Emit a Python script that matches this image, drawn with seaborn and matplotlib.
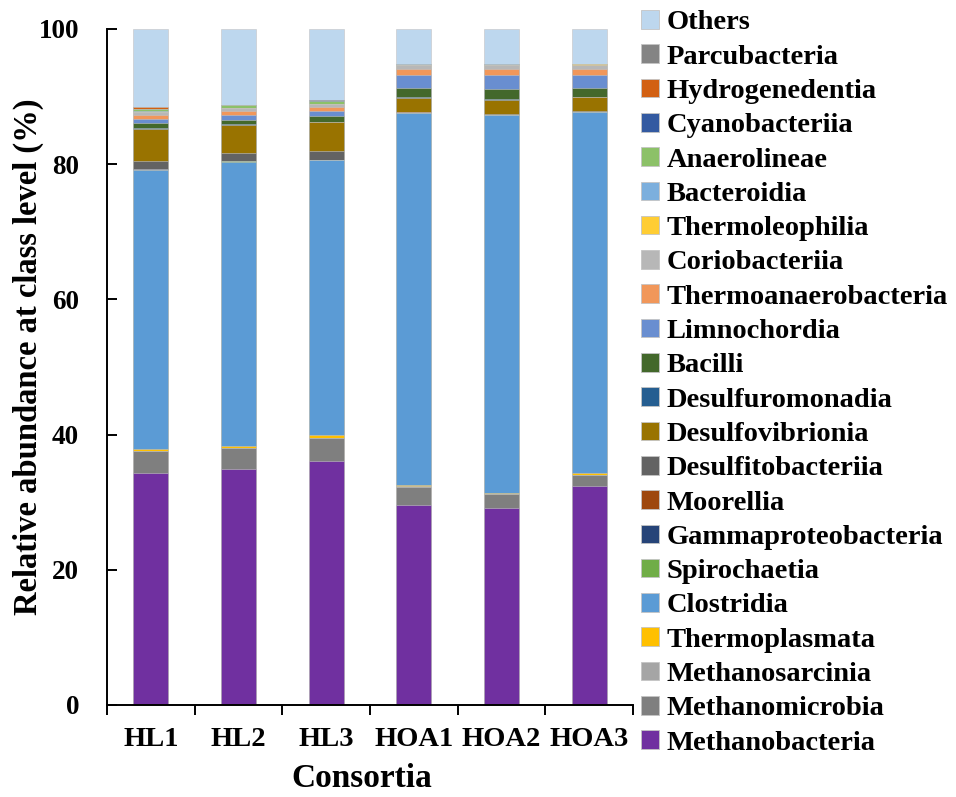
import matplotlib
matplotlib.use("Agg")
import matplotlib.pyplot as plt
from matplotlib.patches import Patch
from matplotlib.ticker import FixedLocator, NullFormatter
import numpy as np
import seaborn as sns

samples = ["HL1", "HL2", "HL3", "HOA1", "HOA2", "HOA3"]

# Relative abundance (%) of each class, per consortium (stack order bottom -> top)
methanobacteria = [34.3, 34.9, 36.1, 29.6, 29.1, 32.4]
methanomicrobia = [3.3, 3.1, 3.4, 2.65, 2.1, 1.6]
methanosarcinia = [0.02, 0.02, 0.05, 0.1, 0.02, 0.02]
thermoplasmata = [0.28, 0.3, 0.35, 0.2, 0.2, 0.25]
clostridia = [41.2, 41.95, 40.66, 55.0, 55.8, 53.4]
spirochaetia = [0.02, 0.14, 0.02, 0.02, 0.02, 0.02]
gammaproteobacteria = [0.15, 0.02, 0.02, 0.05, 0.02, 0.02]
moorellia = [0.02, 0.02, 0.02, 0.05, 0.02, 0.02]
desulfitobacteriia = [1.18, 1.24, 1.31, 0.12, 0.15, 0.15]
desulfovibrionia = [4.74, 4.04, 4.36, 2.05, 2.07, 2.08]
desulfuromonadia = [0.19, 0.15, 0.02, 0.05, 0.19, 0.05]
bacilli = [0.65, 0.64, 0.84, 1.43, 1.43, 1.32]
limnochordia = [0.64, 0.74, 0.71, 1.94, 2.12, 1.92]
thermoanaerobacteria = [0.59, 0.59, 0.59, 0.76, 0.91, 0.79]
coriobacteriia = [0.49, 0.44, 0.43, 0.7, 0.57, 0.69]
thermoleophilia = [0.02, 0.02, 0.02, 0.02, 0.02, 0.02]
bacteroidia = [0.03, 0.03, 0.03, 0.03, 0.03, 0.03]
anaerolineae = [0.35, 0.40, 0.49, 0.02, 0.02, 0.02]
cyanobacteriia = [0.02, 0.02, 0.02, 0.02, 0.02, 0.02]
hydrogenedentia = [0.24, 0.02, 0.02, 0.02, 0.02, 0.02]
parcubacteria = [0.02, 0.02, 0.02, 0.02, 0.02, 0.02]
others = [11.55, 11.2, 10.5, 5.15, 5.15, 5.15]

classes = [
    ("Methanobacteria", methanobacteria, "#7030A0"),
    ("Methanomicrobia", methanomicrobia, "#7F7F7F"),
    ("Methanosarcinia", methanosarcinia, "#A5A5A5"),
    ("Thermoplasmata", thermoplasmata, "#FFC000"),
    ("Clostridia", clostridia, "#5B9BD5"),
    ("Spirochaetia", spirochaetia, "#70AD47"),
    ("Gammaproteobacteria", gammaproteobacteria, "#264478"),
    ("Moorellia", moorellia, "#9E480E"),
    ("Desulfitobacteriia", desulfitobacteriia, "#636363"),
    ("Desulfovibrionia", desulfovibrionia, "#997300"),
    ("Desulfuromonadia", desulfuromonadia, "#255E91"),
    ("Bacilli", bacilli, "#43682B"),
    ("Limnochordia", limnochordia, "#698ED0"),
    ("Thermoanaerobacteria", thermoanaerobacteria, "#F1975A"),
    ("Coriobacteriia", coriobacteriia, "#B7B7B7"),
    ("Thermoleophilia", thermoleophilia, "#FFCD33"),
    ("Bacteroidia", bacteroidia, "#7CAFDD"),
    ("Anaerolineae", anaerolineae, "#8CC168"),
    ("Cyanobacteriia", cyanobacteriia, "#335AA1"),
    ("Hydrogenedentia", hydrogenedentia, "#D26012"),
    ("Parcubacteria", parcubacteria, "#848484"),
    ("Others", others, "#BDD7EE"),
]

sns.set_theme(style="white")
plt.rcParams["font.family"] = ["Liberation Serif", "DejaVu Serif"]
plt.rcParams["font.weight"] = "bold"
plt.rcParams["axes.labelweight"] = "bold"
for key in ("text.color", "axes.labelcolor", "xtick.color", "ytick.color"):
    plt.rcParams[key] = "black"

W, H = 956, 797
fig = plt.figure(figsize=(W / 100, H / 100), dpi=100)
ax = fig.add_axes([107 / W, 1 - 705 / H, (633 - 107) / W, (705 - 29) / H])

# cumulative tops; draw tallest first so each lower class overlays it
tops = np.cumsum(np.array([vals for _, vals, _ in classes], dtype=float), axis=0)
edge = "#C4C4C4"
for i in reversed(range(len(classes))):
    sns.barplot(x=samples, y=tops[i], color=classes[i][2], width=0.4,
                saturation=1, edgecolor=edge, linewidth=0.4, ax=ax)

ax.set_xlim(-0.5, len(samples) - 0.5)
ax.set_ylim(0, 100)
ax.set_yticks([0, 20, 40, 60, 80, 100])
ax.set_yticklabels(["0", "20", "40", "60", "80", "100"])
ax.set_xticks(range(len(samples)))
ax.set_xticklabels(samples)
ax.xaxis.set_minor_locator(FixedLocator(np.arange(-0.5, len(samples), 1.0)))
ax.xaxis.set_minor_formatter(NullFormatter())

for side in ("top", "right"):
    ax.spines[side].set_visible(False)
for side in ("left", "bottom"):
    ax.spines[side].set_color("black")
    ax.spines[side].set_linewidth(1.4)

ax.tick_params(axis="y", direction="in", length=7, width=1.4, color="black",
               labelcolor="black", pad=20, labelsize=19.5, left=True)
ax.tick_params(axis="x", which="major", length=0, pad=16, labelsize=20.5,
               labelcolor="black")
ax.tick_params(axis="x", which="minor", direction="out", length=7, width=1.4,
               color="black", bottom=True)

ax.set_xlabel("Consortia", fontsize=24, fontweight="bold", color="black")
ax.xaxis.set_label_coords((362 - 107) / 526, -58 / 676)
ax.set_ylabel("Relative abundance at class level (%)", fontsize=23.5,
              fontweight="bold", color="black")
ax.yaxis.set_label_coords((44 - 107) / 526, (705 - 357) / 676)

handles = [Patch(facecolor=c, edgecolor=edge, linewidth=0.6, label=n)
           for n, _, c in reversed(classes)]
leg = fig.legend(handles=handles, loc="upper left",
                 bbox_to_anchor=(641 / W, 1 - 10 / H), frameon=False,
                 fontsize=20.5, handlelength=0.63, handleheight=0.63,
                 handletextpad=0.28, labelspacing=0.315, borderpad=0,
                 borderaxespad=0)
for t in leg.get_texts():
    t.set_color("black")

fig.savefig("out.png", dpi=100)
